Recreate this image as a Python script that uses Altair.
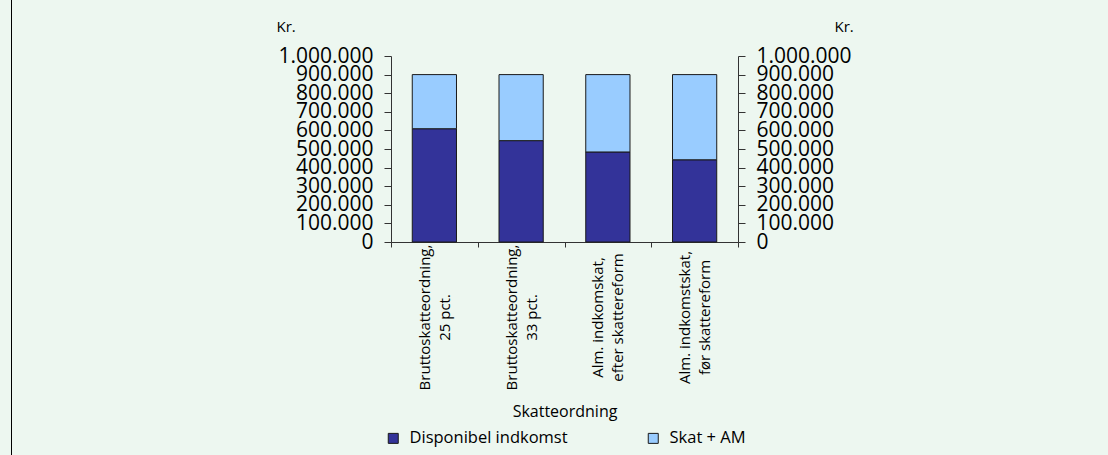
import altair as alt
import pandas as pd

# Income split for a gross income of 900.000 kr. under four tax schemes
categories = [
    "Bruttoskatteordning, 25 pct.",
    "Bruttoskatteordning, 33 pct.",
    "Alm. indkomskat, efter skattereform",
    "Alm. indkomstskat, før skattereform",
]
disponibel = [609000, 545000, 484000, 442000]
skat_am = [291000, 355000, 416000, 458000]
series = ["Disponibel indkomst", "Skat + AM"]
colors = ["#333399", "#99CCFF"]
y_ticks = [0, 100000, 200000, 300000, 400000, 500000, 600000, 700000, 800000, 900000, 1000000]

rows = []
for cat, d, s in zip(categories, disponibel, skat_am):
    rows.append({"kategori": cat, "serie": series[0], "rang": 0, "kr": d})
    rows.append({"kategori": cat, "serie": series[1], "rang": 1, "kr": s})
df = pd.DataFrame(rows)

FONT = "Open Sans"
W, H = 347, 186
LEFT, TOP = 391, 56
TOTAL_W, TOTAL_H = 1108, 455

# Danish thousands separator: 1.000.000
num_expr = "replace(replace(format(datum.value, ','), ',', '.'), ',', '.')"
# Break category labels after the comma
cat_expr = "split(replace(datum.label, ', ', ',|'), '|')"

y_scale = alt.Scale(domain=[0, 1000000], nice=False, zero=True)
# Bands fill the axis so the ticks fall between the bars
x_scale = alt.Scale(paddingInner=0, paddingOuter=0)


def y_axis(orient, title_x):
    return alt.Axis(
        orient=orient,
        values=y_ticks,
        labelExpr=num_expr,
        labelFontSize=21,
        labelOverlap=False,
        labelBound=False,
        tickSize=7,
        labelPadding=11,
        grid=False,
        title="Kr.",
        titleAngle=0,
        titleX=title_x,
        titleY=-30,
        titleAlign="left",
        titleBaseline="middle",
        titleFontSize=15,
        titleFontWeight="normal",
    )


x_enc = alt.X(
    "kategori:N",
    sort=categories,
    scale=x_scale,
    axis=alt.Axis(
        title="Skatteordning",
        labelAngle=-90,
        labelAlign="center",
        labelBaseline="middle",
        labelExpr=cat_expr,
        labelLineHeight=20,
        labelFontSize=15,
        labelPadding=70,
        labelOffset=-10,
        tickBand="extent",
        tickSize=5,
        titleY=169,
        titleBaseline="middle",
        titleFontSize=16,
        titleFontWeight="normal",
    ),
)

bars = alt.Chart(df).mark_bar(
    stroke="#1a1a1a", strokeWidth=1, width=alt.RelativeBandSize(0.51)
).encode(
    x=x_enc,
    y=alt.Y("kr:Q", stack="zero", scale=y_scale, axis=y_axis("left", -115)),
    color=alt.Color(
        "serie:N",
        scale=alt.Scale(domain=series, range=colors),
        legend=alt.Legend(
            title=None,
            orient="none",
            legendX=-6,
            legendY=374,
            direction="horizontal",
            columns=2,
            columnPadding=77,
            symbolType="square",
            symbolSize=100,
            symbolStrokeColor="#1a1a1a",
            symbolStrokeWidth=1,
            labelFontSize=16.5,
            labelOffset=8,
            padding=0,
        ),
    ),
    order=alt.Order("rang:Q"),
)

# Same scale mirrored on the right-hand axis
right = alt.Chart(df).mark_bar(opacity=0, width=alt.RelativeBandSize(0.51)).encode(
    x=x_enc,
    y=alt.Y("kr:Q", stack="zero", scale=y_scale, axis=y_axis("right", 96)),
    order=alt.Order("rang:Q"),
)

# Page frame line on the left edge
frame = alt.Chart(pd.DataFrame({"f": [0]})).mark_rule(color="#000000", strokeWidth=1).encode(
    x=alt.value(11.5 - LEFT),
    y=alt.value(-TOP),
    y2=alt.value(TOTAL_H - TOP),
)

chart = (
    alt.layer(bars, right, frame)
    .resolve_scale(y="independent")
    .properties(
        width=W,
        height=H,
        autosize=alt.AutoSizeParams(type="none"),
        padding={"left": LEFT, "top": TOP, "right": TOTAL_W - LEFT - W, "bottom": TOTAL_H - TOP - H},
        background="#EDF7F0",
    )
    .configure_view(stroke=None)
    .configure_axis(
        labelFont=FONT,
        titleFont=FONT,
        labelColor="#000000",
        titleColor="#000000",
        domainColor="#333333",
        tickColor="#333333",
    )
    .configure_legend(labelFont=FONT, labelColor="#000000")
)

chart.save("out.html", embed_options={"renderer": "svg", "actions": False})
